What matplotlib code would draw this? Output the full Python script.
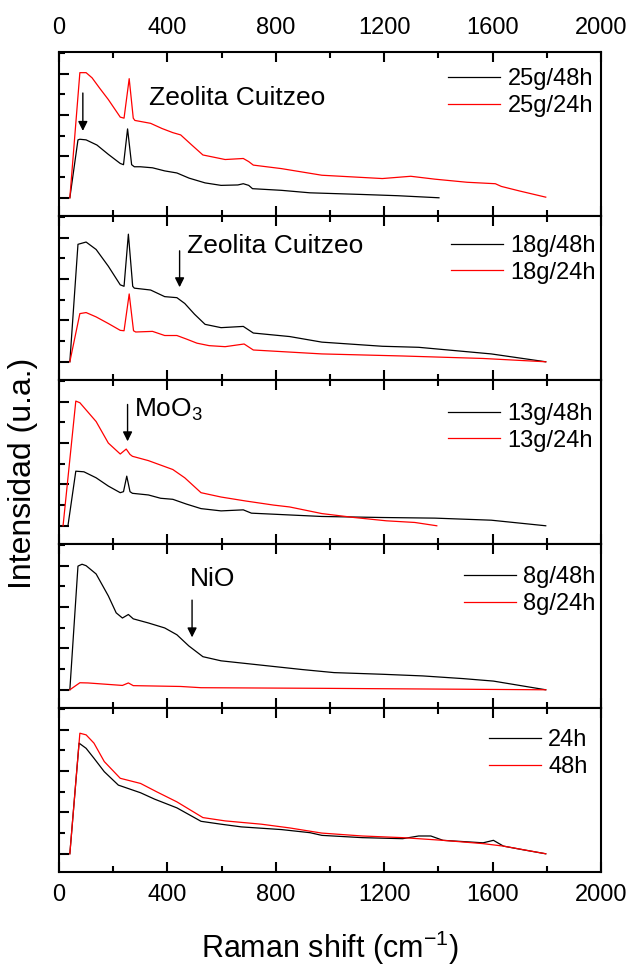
import matplotlib.pyplot as plt
from matplotlib.ticker import MultipleLocator

plt.rcParams['font.family'] = ['Liberation Sans', 'DejaVu Sans']
plt.rcParams['mathtext.default'] = 'regular'

# panel 1 (top): 25 g
p1_labels = ["25g/48h", "25g/24h"]
p1_black_x = [40, 70, 77, 100, 140, 182, 226, 238, 253, 268, 278, 300, 345, 390, 435, 480, 539, 598, 660, 680, 700, 714, 821, 926, 1119, 1250, 1402]
p1_black_y = [0, 2.8, 2.83, 2.8, 2.55, 2.1, 1.66, 1.6, 3.33, 1.6, 1.5, 1.5, 1.45, 1.3, 1.2, 0.95, 0.72, 0.6, 0.62, 0.68, 0.6, 0.44, 0.36, 0.24, 0.16, 0.1, 0]
p1_red_x = [40, 77, 100, 122, 150, 182, 226, 240, 259, 274, 280, 338, 380, 420, 449, 490, 531, 613, 680, 700, 717, 821, 970, 1193, 1298, 1387, 1506, 1610, 1632, 1699, 1796]
p1_red_y = [0, 6.05, 6.05, 5.8, 5.3, 4.75, 3.9, 3.85, 5.76, 3.85, 3.74, 3.6, 3.35, 3.15, 3.04, 2.55, 2.07, 1.85, 1.9, 1.75, 1.58, 1.41, 1.09, 0.93, 1.04, 0.9, 0.75, 0.68, 0.55, 0.33, 0.03]

# panel 2: 18 g
p2_labels = ["18g/48h", "18g/24h"]
p2_black_x = [40, 70, 100, 137, 182, 226, 240, 256, 272, 278, 338, 390, 435, 464, 500, 539, 598, 680, 717, 851, 970, 1193, 1327, 1461, 1595, 1796]
p2_black_y = [0, 5.68, 5.79, 5.43, 4.62, 3.72, 3.65, 6.17, 3.65, 3.56, 3.47, 3.15, 3.1, 2.82, 2.3, 1.81, 1.65, 1.71, 1.39, 1.22, 0.95, 0.75, 0.7, 0.54, 0.38, 0]
p2_red_x = [40, 77, 100, 137, 182, 226, 240, 259, 275, 283, 345, 390, 435, 470, 509, 554, 613, 683, 717, 970, 1268, 1565, 1796]
p2_red_y = [0, 2.33, 2.38, 2.17, 1.85, 1.52, 1.5, 3.28, 1.5, 1.44, 1.47, 1.27, 1.27, 1.1, 0.9, 0.78, 0.73, 0.86, 0.57, 0.38, 0.28, 0.16, 0]

# panel 3: 13 g
p3_labels = ["13g/48h", "13g/24h"]
p3_black_x = [18, 33, 62, 92, 137, 182, 226, 238, 250, 262, 271, 330, 375, 420, 470, 524, 598, 680, 710, 970, 1193, 1387, 1595, 1796]
p3_black_y = [0, 0, 2.64, 2.61, 2.32, 1.92, 1.6, 1.65, 2.4, 1.65, 1.57, 1.49, 1.33, 1.28, 1.05, 0.83, 0.72, 0.77, 0.61, 0.45, 0.4, 0.37, 0.27, 0]
p3_red_x = [15, 62, 77, 137, 182, 226, 248, 262, 271, 330, 420, 464, 524, 598, 688, 792, 851, 970, 1089, 1208, 1313, 1394]
p3_red_y = [0, 6.03, 5.95, 5.04, 4.0, 3.47, 3.71, 3.45, 3.36, 3.15, 2.72, 2.32, 1.6, 1.39, 1.2, 1.0, 0.91, 0.59, 0.4, 0.24, 0.16, 0]

# panel 4: 8 g
p4_labels = ["8g/48h", "8g/24h"]
p4_black_x = [40, 70, 85, 100, 137, 182, 211, 234, 256, 274, 330, 390, 435, 479, 531, 598, 747, 896, 1015, 1193, 1342, 1491, 1603, 1796]
p4_black_y = [0, 5.98, 6.07, 6.0, 5.6, 4.54, 3.72, 3.47, 3.64, 3.43, 3.23, 2.99, 2.66, 2.12, 1.6, 1.4, 1.19, 0.98, 0.83, 0.75, 0.67, 0.54, 0.42, 0]
p4_red_x = [40, 77, 107, 234, 256, 274, 449, 524, 970, 1796]
p4_red_y = [0, 0.34, 0.33, 0.21, 0.33, 0.2, 0.16, 0.1, 0.07, 0]

# panel 5 (bottom): zeolite alone
p5_labels = ["24h", "48h"]
p5_black_x = [40, 74, 100, 129, 167, 219, 301, 353, 435, 524, 598, 673, 821, 926, 970, 1119, 1268, 1327, 1372, 1417, 1565, 1603, 1640, 1714, 1796]
p5_black_y = [0, 5.35, 5.1, 4.62, 3.97, 3.32, 2.95, 2.64, 2.22, 1.57, 1.43, 1.3, 1.17, 1.02, 0.89, 0.78, 0.73, 0.86, 0.86, 0.65, 0.53, 0.65, 0.37, 0.19, 0]
p5_red_x = [40, 77, 100, 129, 167, 226, 301, 360, 435, 531, 613, 747, 851, 970, 1119, 1268, 1417, 1565, 1640, 1796]
p5_red_y = [0, 5.83, 5.75, 5.35, 4.46, 3.65, 3.4, 3.0, 2.51, 1.75, 1.59, 1.43, 1.25, 1.0, 0.86, 0.78, 0.65, 0.49, 0.37, 0]

panels = [
    (p1_labels, p1_black_x, p1_black_y, p1_red_x, p1_red_y),
    (p2_labels, p2_black_x, p2_black_y, p2_red_x, p2_red_y),
    (p3_labels, p3_black_x, p3_black_y, p3_red_x, p3_red_y),
    (p4_labels, p4_black_x, p4_black_y, p4_red_x, p4_red_y),
    (p5_labels, p5_black_x, p5_black_y, p5_red_x, p5_red_y),
]

# notes: panel index, text, text x, text y, arrow x, arrow tail y, arrow tip y
notes = [
    (0, "Zeolita Cuitzeo", 333, 4.83, 88, 5.2, 3.1),
    (1, "Zeolita Cuitzeo", 472, 5.6, 445, 5.5, 3.47),
    (2, "MoO$_3$", 275, 5.6, 253, 6.0, 3.95),
    (3, "NiO", 482, 5.36, 491, 4.47, 2.4),
]

legend_pos = [(0.985, 0.90), (0.99, 0.885), (0.985, 0.86), (0.99, 0.865), (0.975, 0.87)]

fig, axes = plt.subplots(5, 1, sharex=True, figsize=(6.31, 9.68), dpi=100,
                         gridspec_kw=dict(hspace=0))
fig.subplots_adjust(left=0.0935, right=0.9525, top=0.9463, bottom=0.0992)

for i, ax in enumerate(axes):
    labels, bx, by, rx, ry = panels[i]
    ax.plot(bx, by, color="black", lw=0.9, label=labels[0])
    ax.plot(rx, ry, color="red", lw=0.9, label=labels[1])
    ax.set_xlim(0, 2000)
    ax.set_ylim(-0.88, 7.05)
    ax.xaxis.set_major_locator(MultipleLocator(400))
    ax.xaxis.set_minor_locator(MultipleLocator(200))
    ax.yaxis.set_major_locator(MultipleLocator(2))
    ax.yaxis.set_minor_locator(MultipleLocator(1))
    ax.tick_params(which="both", direction="in", top=True, bottom=True,
                   left=True, right=False, labelleft=False, width=1.5,
                   labelsize=17, pad=9)
    ax.tick_params(which="major", length=7)
    ax.tick_params(which="minor", length=4)
    for s in ax.spines.values():
        s.set_linewidth(1.5)
    ax.legend(loc="upper right", bbox_to_anchor=legend_pos[i], frameon=False,
              fontsize=17, handlelength=2.2, handletextpad=0.3,
              labelspacing=0.2, borderpad=0, borderaxespad=0)

axes[0].tick_params(labeltop=True)

for idx, txt, tx, ty, ax_x, y0, y1 in notes:
    ax = axes[idx]
    ax.text(tx, ty, txt, fontsize=19, ha="left", va="center")
    ax.annotate("", xy=(ax_x, y1), xytext=(ax_x, y0),
                arrowprops=dict(arrowstyle="-|>", color="black", lw=1,
                                mutation_scale=14))

axes[-1].set_xlabel("Raman shift (cm$^{-1}$)", fontsize=22, labelpad=16)
fig.text(0.037, 0.511, "Intensidad (u.a.)", fontsize=23, rotation=90,
         ha="center", va="center")

plt.savefig("out.png", dpi=100)
